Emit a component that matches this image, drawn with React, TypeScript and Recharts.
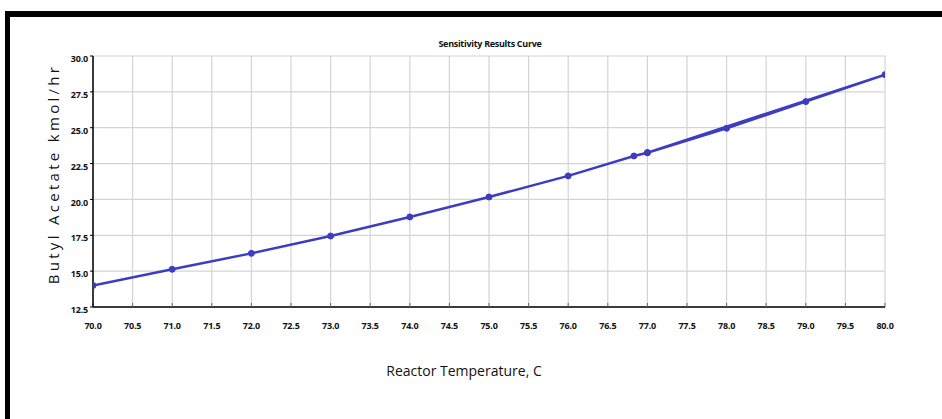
import React from 'react';
import { LineChart, Line, XAxis, YAxis, CartesianGrid, Label } from 'recharts';

const temperatures = [70, 71, 72, 73, 74, 75, 76, 76.83, 77, 78, 79, 80, 77];
const butylAcetate = [14.0, 15.13, 16.24, 17.45, 18.78, 20.17, 21.64, 23.03, 23.26, 24.96, 26.82, 28.7, 23.26];
const xTicks = [70, 70.5, 71, 71.5, 72, 72.5, 73, 73.5, 74, 74.5, 75, 75.5, 76, 76.5, 77, 77.5, 78, 78.5, 79, 79.5, 80];
const yTicks = [12.5, 15, 17.5, 20, 22.5, 25, 27.5, 30];

const data = temperatures.map((t, i) => ({ t, v: butylAcetate[i] }));

const tickFont = { fontFamily: "'Open Sans', sans-serif", fontSize: 9, fontWeight: 700, fill: '#111', letterSpacing: -0.2 };

export default function App() {
  return (
    <div style={{ position: 'absolute', left: 0, top: 0, width: 942, height: 419, background: '#fff', overflow: 'hidden' }}>
      <div style={{ position: 'absolute', left: 5, top: 11, width: 937, height: 6, background: '#000' }} />
      <div style={{ position: 'absolute', left: 5, top: 11, width: 5, height: 408, background: '#000' }} />
      <div style={{ position: 'absolute', left: 0, top: 37, width: 980, textAlign: 'center', fontFamily: "'Open Sans', sans-serif", fontSize: 9, fontWeight: 700, color: '#111', letterSpacing: -0.3 }}>
        Sensitivity Results Curve
      </div>
      <div style={{ position: 'absolute', left: 0, top: 0 }}>
        <LineChart width={942} height={419} data={data} margin={{ top: 56, right: 57, bottom: 82, left: 53 }}>
          <CartesianGrid stroke="#d4d4d4" strokeWidth={1.2} />
          <XAxis
            dataKey="t"
            type="number"
            domain={[70, 80]}
            ticks={xTicks}
            allowDataOverflow
            height={30}
            tick={tickFont}
            tickFormatter={(v: number) => v.toFixed(1)}
            tickSize={-4}
            tickMargin={20}
            axisLine={{ stroke: '#000', strokeWidth: 1.5 }}
            tickLine={{ stroke: '#666' }}
            interval={0}
          >
            <Label
              position="bottom"
              content={() => (
                <text x={464} y={376} textAnchor="middle" fontFamily="'Open Sans', sans-serif" fontSize={14} fill="#111">
                  Reactor Temperature, C
                </text>
              )}
            />
          </XAxis>
          <YAxis
            type="number"
            domain={[12.5, 30]}
            ticks={yTicks}
            width={40}
            tick={{ ...tickFont, dy: 3 }}
            tickFormatter={(v: number) => v.toFixed(1)}
            tickSize={3}
            tickMargin={2}
            axisLine={{ stroke: '#000', strokeWidth: 1.5 }}
            tickLine={{ stroke: '#000' }}
            interval={0}
          >
            <Label
              position="left"
              content={() => (
                <text
                  x={59}
                  y={174}
                  transform="rotate(-90 59 174)"
                  textAnchor="middle"
                  fontFamily="'Open Sans', sans-serif"
                  fontSize={15}
                  letterSpacing={3.3}
                  fill="#111"
                >
                  Butyl Acetate kmol/hr
                </text>
              )}
            />
          </YAxis>
          <Line
            dataKey="v"
            type="linear"
            stroke="#3d3dc2"
            strokeWidth={2.5}
            dot={{ r: 3, fill: '#3d3dc2', stroke: '#3d3dc2', strokeWidth: 1 }}
            isAnimationActive={false}
          />
        </LineChart>
      </div>
    </div>
  );
}
